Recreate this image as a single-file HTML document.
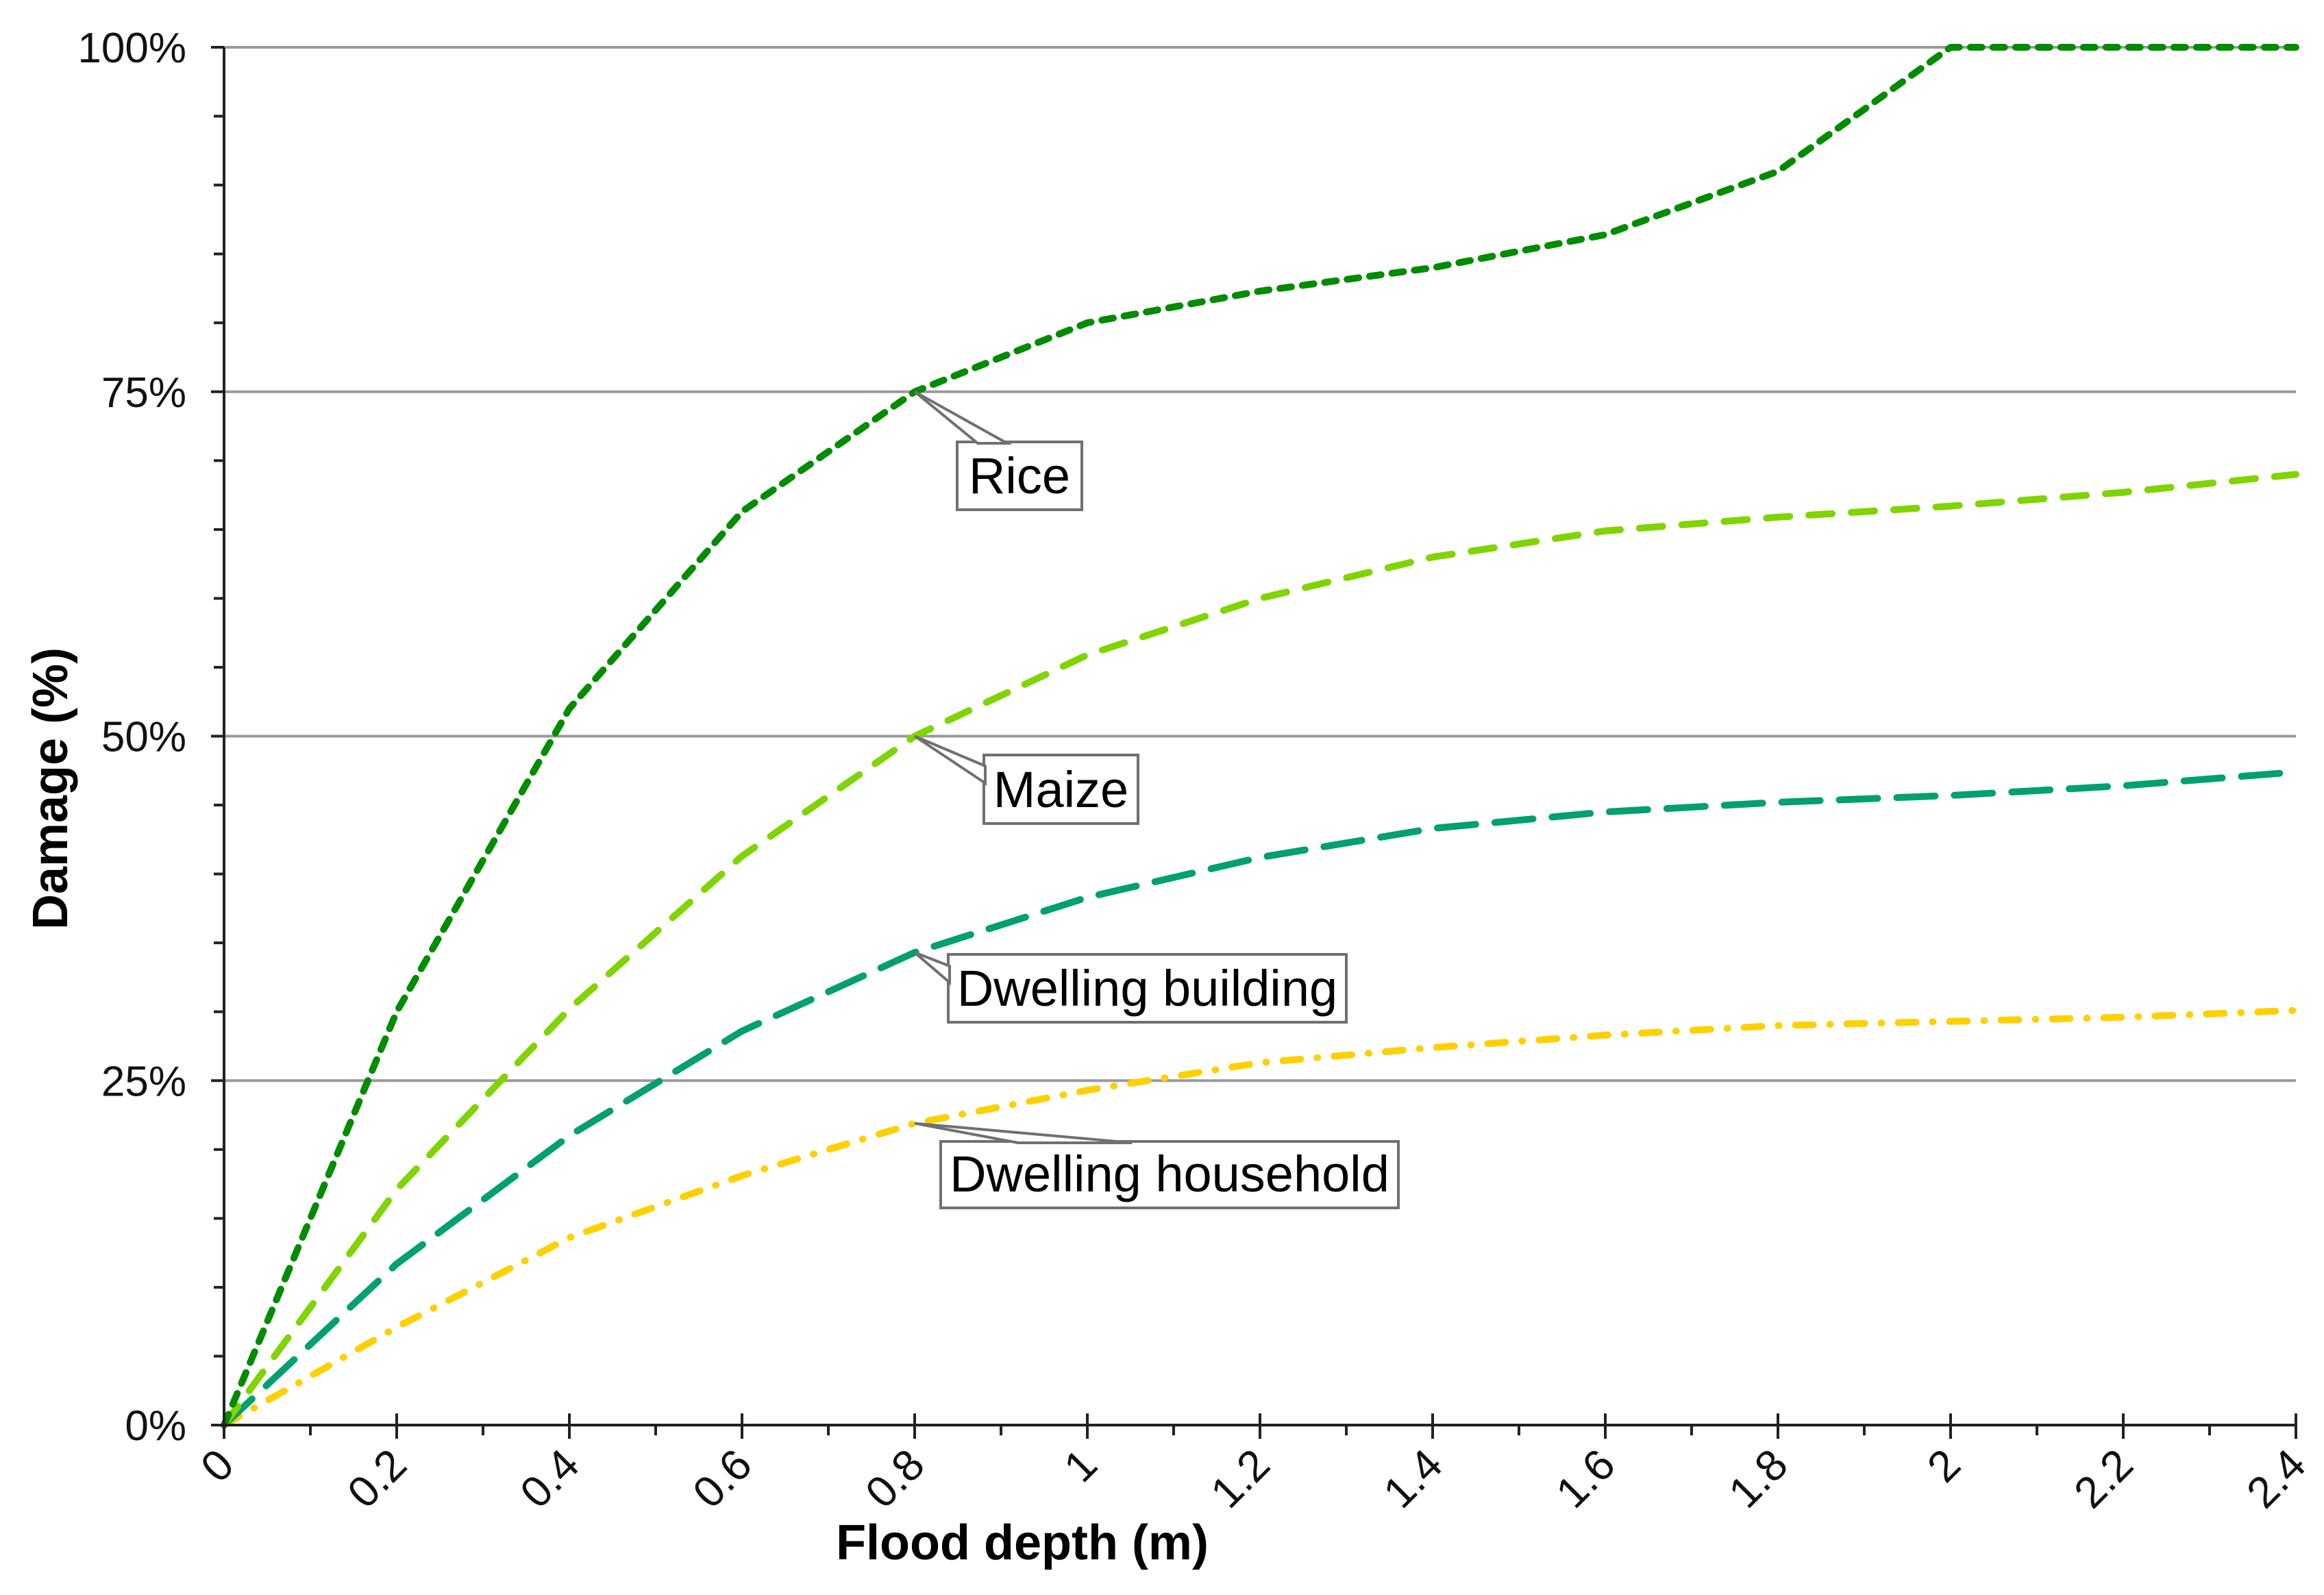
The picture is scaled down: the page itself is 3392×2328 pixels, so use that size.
<!DOCTYPE html>
<html><head><meta charset="utf-8"><style>
html,body{margin:0;padding:0;background:#fff;}
svg{display:block;font-family:"Liberation Sans",Arial,sans-serif;}
</style></head><body>
<svg id="chart" width="3392" height="2328" viewBox="0 0 3392 2328" xmlns="http://www.w3.org/2000/svg">
<g id="grid"></g>
<g id="series"></g>
<g id="axes"></g>
<g id="labels"></g>
<text x="98" y="1151" font-size="72" font-weight="bold" text-anchor="middle" transform="rotate(-90 98 1151)">Damage (%)</text>
<text x="1492" y="2276" font-size="72" font-weight="bold" text-anchor="middle">Flood depth (m)</text>
</svg>
<script>
const depths = [0,0.2,0.4,0.6,0.8,1.0,1.2,1.4,1.6,1.8,2.0,2.2,2.4];
const rice = [0,30,52,66.3,75,80,82.3,84,86.4,91,100,100,100];
const maize = [0,17.1,30.2,41.3,50,55.9,60,63,64.9,65.9,66.7,67.7,69];
const dwellingBuilding = [0,11.7,21,28.6,34.3,38.3,41.2,43.3,44.5,45.2,45.7,46.4,47.4];
const dwellingHousehold = [0,7.1,13.6,18.1,21.9,24.3,26.3,27.4,28.3,29,29.3,29.6,30.1];
const xTicks = [0,0.2,0.4,0.6,0.8,1,1.2,1.4,1.6,1.8,2,2.2,2.4];
const xTickLabels = ["0","0.2","0.4","0.6","0.8","1","1.2","1.4","1.6","1.8","2","2.2","2.4"];
const yTicks = [0,25,50,75,100];
const yTickLabels = ["0%","25%","50%","75%","100%"];

const NS="http://www.w3.org/2000/svg";
const X0=327,X1=3351,Y0=2080,Y1=69;
const xs=v=>X0+(v-0)/2.4*(X1-X0);
const ys=v=>Y0-(v/100)*(Y0-Y1);
function mk(tag,attrs,parent){const e=document.createElementNS(NS,tag);for(const k in attrs)e.setAttribute(k,attrs[k]);parent.appendChild(e);return e;}
const grid=document.getElementById('grid'),axes=document.getElementById('axes'),ser=document.getElementById('series'),lab=document.getElementById('labels');

yTicks.forEach((t,i)=>{
  if(t>0){const g=mk('line',{x1:X0,x2:X1,y1:ys(t),y2:ys(t),stroke:'#9a9a9a','stroke-width':4},grid);
  
  }
  const tx=mk('text',{x:272,y:ys(t)+22,'font-size':62,'text-anchor':'end',fill:'#111'},axes);
  tx.textContent=yTickLabels[i];
  
  
});
for(let v=0;v<=100.001;v+=5){
  const major=Math.abs(v%25)<0.01;
  const tk=mk('line',{x1:major?308:312,x2:X0,y1:ys(v),y2:ys(v),stroke:'#222','stroke-width':4},axes);
  
  
}
for(let v=0;v<=2.401;v+=0.1){
  const major=Math.round(v*10)%2===0;
  const tk=mk('line',{x1:xs(v),x2:xs(v),y1:major?2063:2080,y2:major?2100:2095,stroke:'#222','stroke-width':4},axes);
  
  
}
xTicks.forEach((t,i)=>{
  const x=xs(t)+18,y=2142;
  const tx=mk('text',{x:x,y:y,'font-size':64,'text-anchor':'end',transform:`rotate(-45 ${x} ${y})`,fill:'#111'},axes);
  tx.textContent=xTickLabels[i];
  
  
});
const ya=mk('line',{x1:X0,x2:X0,y1:Y1,y2:Y0,stroke:'#222','stroke-width':4},axes);


const xa=mk('line',{x1:X0,x2:X1,y1:Y0,y2:Y0,stroke:'#222','stroke-width':4},axes);



function drawSeries(vals,color,dash,w,name){
  const d=vals.map((v,i)=>(i?'L':'M')+xs(depths[i]).toFixed(1)+' '+ys(v).toFixed(1)).join(' ');
  const p=mk('path',{d:d,fill:'none',stroke:color,'stroke-width':w,'stroke-dasharray':dash,'stroke-linecap':'round','stroke-linejoin':'round'},ser);
  
  
}
drawSeries(dwellingHousehold,'#ffd000','26 24 1 24',10,'dwelling-household-line');
drawSeries(dwellingBuilding,'#00a070','56 28',10,'dwelling-building-line');
drawSeries(maize,'#80d400','34 28',10,'maize-line');
drawSeries(rice,'#008c00','17 16',10,'rice-line');

function callout(px,py,poly,box,text,name){
  const g=mk('g',{},lab);
  
  
  mk('rect',{x:box[0],y:box[1],width:box[2]-box[0],height:box[3]-box[1],fill:'#fff',stroke:'#707070','stroke-width':4},g);
  const pts=[[px,py]].concat(poly).map(p=>p.join(',')).join(' ');
  mk('polygon',{points:pts,fill:'#fff',stroke:'#707070','stroke-width':4,'stroke-linejoin':'miter'},g);
  const t=mk('text',{x:(box[0]+box[2])/2,y:box[3]-24,'font-size':74,'text-anchor':'middle',fill:'#000'},g);
  t.textContent=text;
}
const px=xs(0.8);
callout(px,ys(rice[4]),[[1427,647],[1470,647]],[1397,645,1579,744],'Rice','rice-label');
callout(px,ys(maize[4]),[[1438,1118],[1438,1143]],[1436,1102,1661,1202],'Maize','maize-label');
callout(px,ys(dwellingBuilding[4]),[[1386,1410],[1386,1434]],[1384,1393,1965,1492],'Dwelling building','dwelling-building-label');
callout(px,ys(dwellingHousehold[4]),[[1486,1668],[1652,1668]],[1373,1666,2041,1763],'Dwelling household','dwelling-household-label');
</script>
</body></html>
